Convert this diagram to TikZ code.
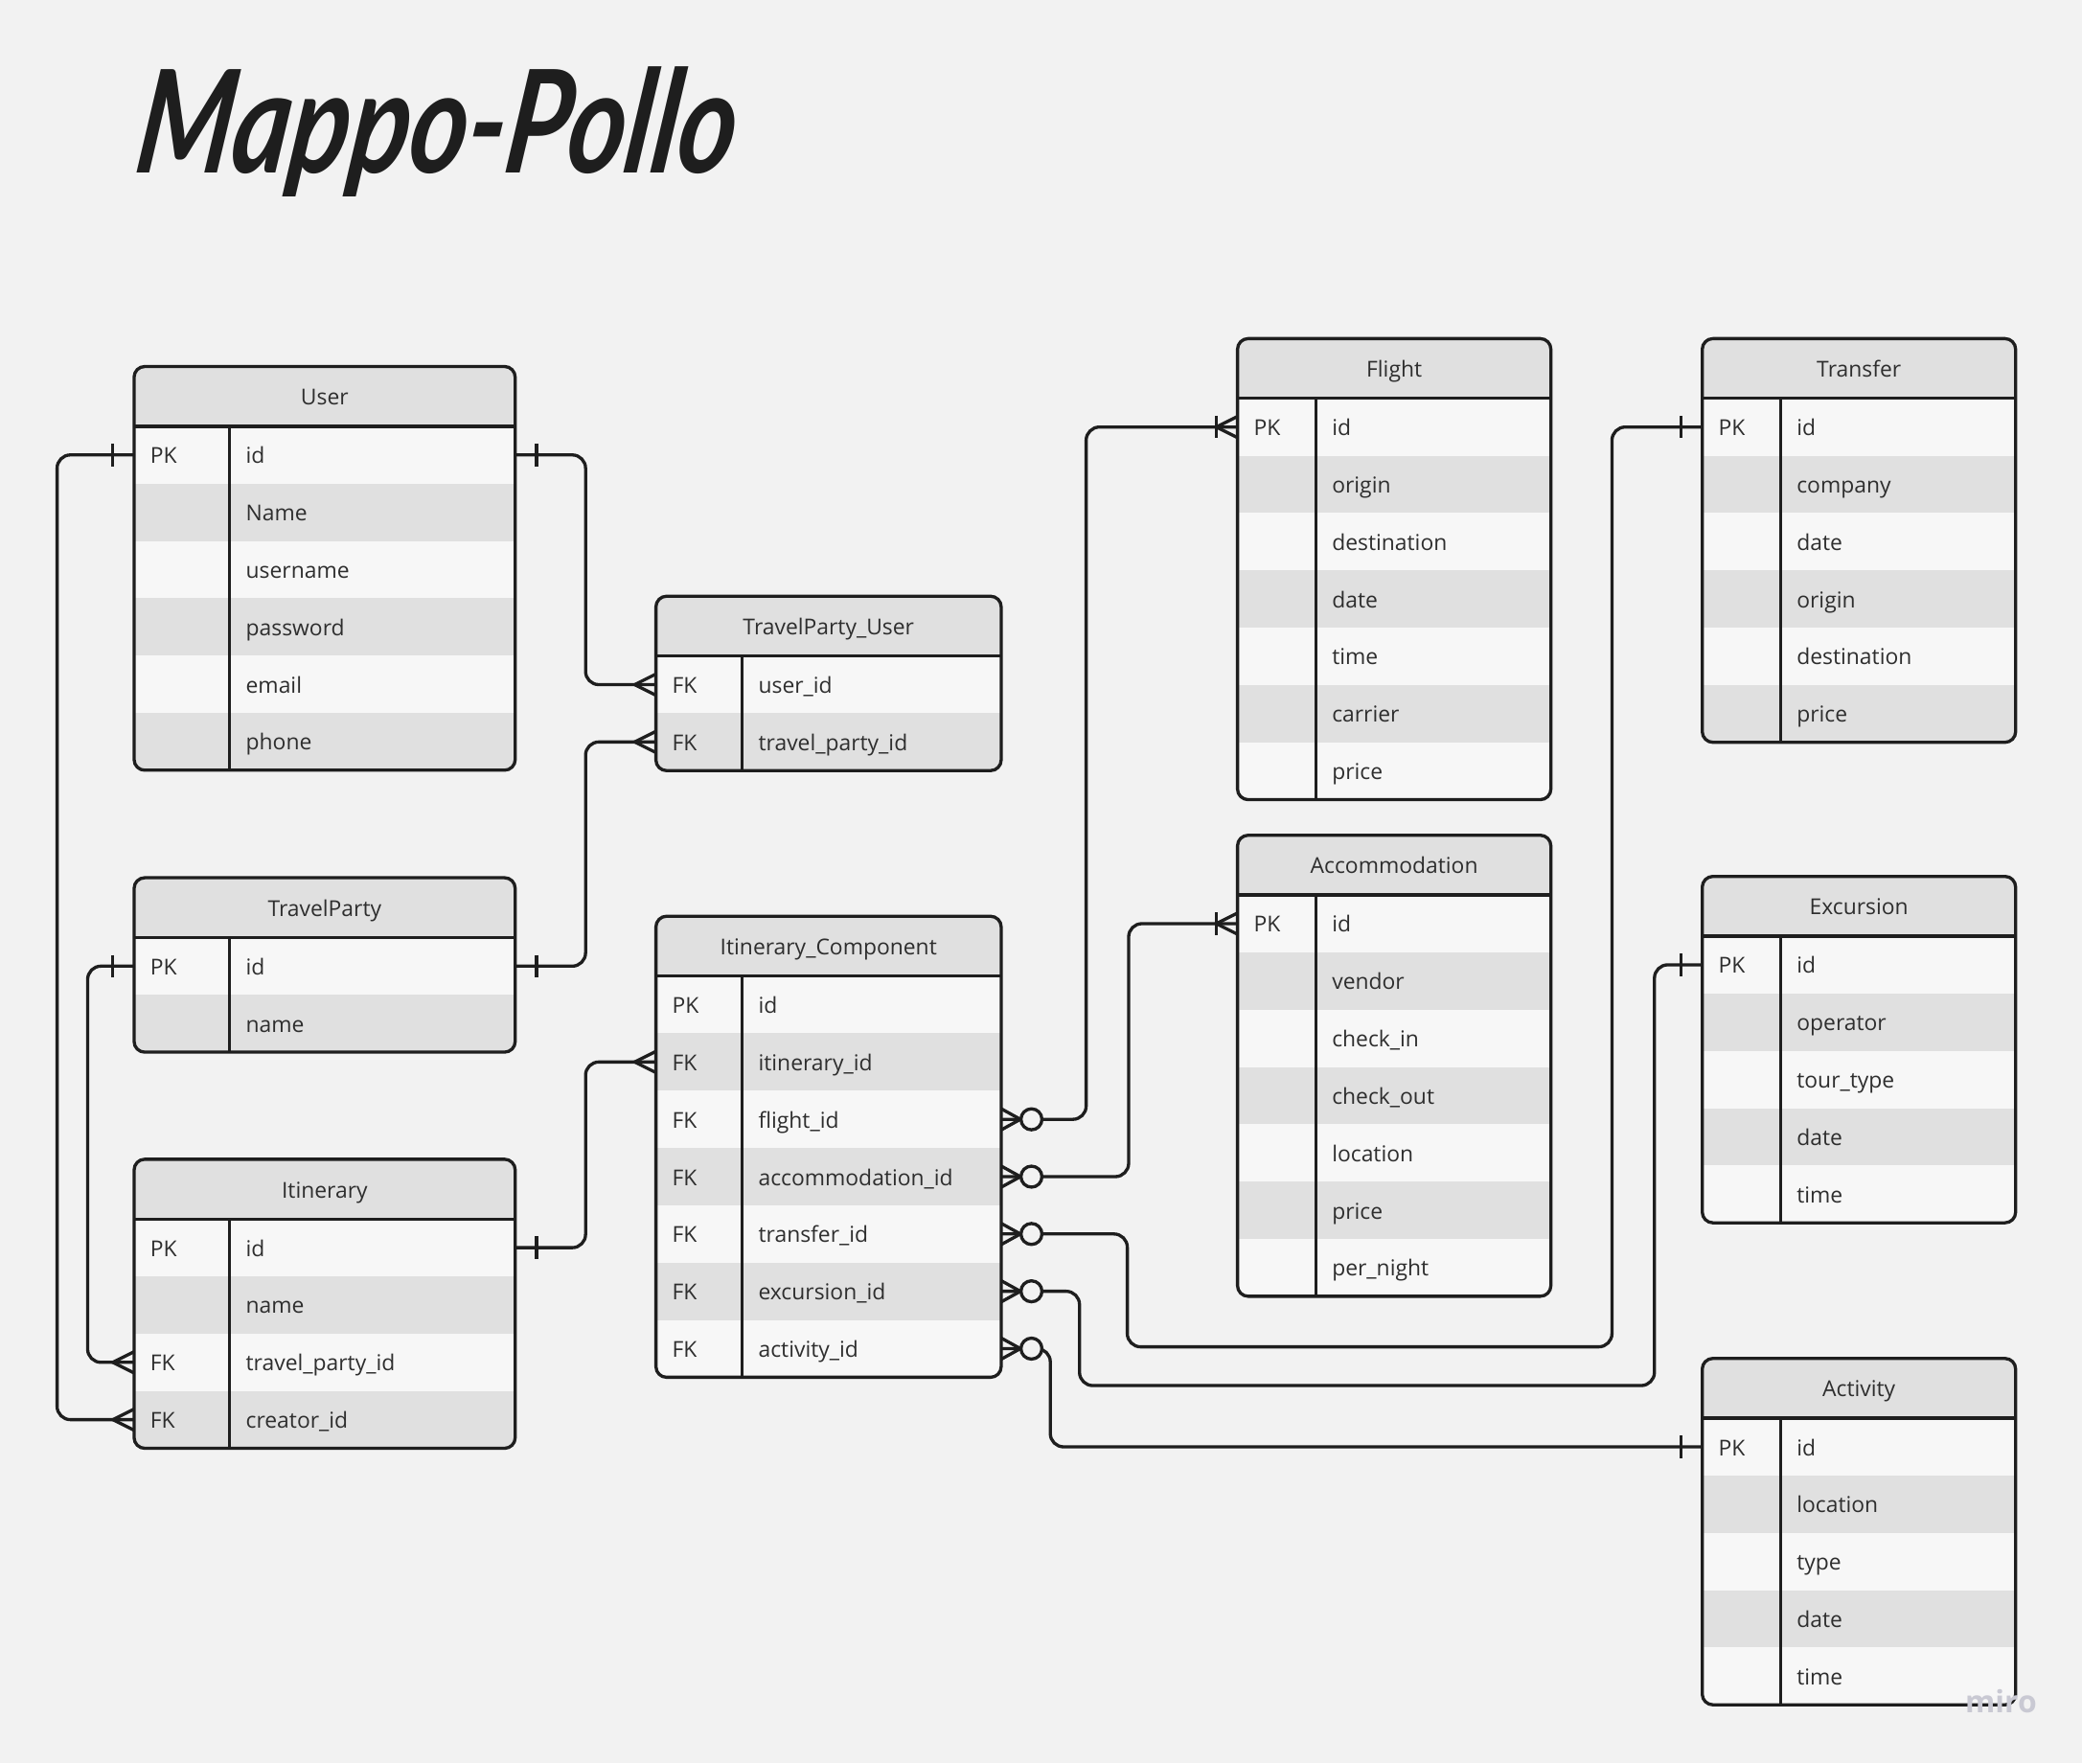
\documentclass[tikz,border=0pt]{standalone}
\usepackage{fontspec}
\setmainfont{Open Sans}
\newfontfamily\titlefont{Lato}
\usetikzlibrary{calc}
\definecolor{bgcol}{HTML}{F2F2F2}
\definecolor{rowlight}{HTML}{F7F7F7}
\definecolor{rowgray}{HTML}{E0E0E0}
\definecolor{headfill}{HTML}{E0E0E0}
\definecolor{linecol}{HTML}{1E1E1E}
\definecolor{txtcol}{HTML}{2E2E2E}
\definecolor{mirocol}{HTML}{C9C9D3}
\tikzset{
  tableline/.style={draw=linecol, line width=2.4pt},
  conn/.style={draw=linecol, line width=2.4pt, rounded corners=10pt},
  mk/.style={draw=linecol, line width=2.4pt},
  rowcell/.style={rectangle, draw=none, inner sep=0pt, outer sep=0pt, minimum height=43.17pt},
  keytext/.style={anchor=base west, inner sep=0pt, text=txtcol, font=\fontsize{16.5}{19}\selectfont},
  fieldtext/.style={anchor=base west, inner sep=0pt, text=txtcol, font=\fontsize{16.5}{19}\selectfont},
  headtext/.style={anchor=base, inner sep=0pt, text=txtcol, font=\fontsize{16.5}{19}\selectfont},
  onemark/.pic={\draw[mk] (16,-8.5) -- (16,8.5);},
  manymark/.pic={\draw[mk] (0,-8) -- (16,0) -- (0,8);},
  onemanymark/.pic={\draw[mk] (0,-8) -- (16,0) -- (0,8); \draw[mk] (16,-8.5) -- (16,8.5);},
  zeromanymark/.pic={\draw[mk] (0,-8) -- (14.5,0) -- (0,8); \draw[mk, fill=bgcol] (22.8,0) circle (7.9pt);}
}
% #1 name #2 title #3 x #4 y #5 w #6 divider offset #7 rows count #8 rows
\newcommand{\ertable}[8]{%
  \pgfmathsetmacro{\tb}{#4+45+#7*43.17}
  \begin{scope}
    \clip[rounded corners=8pt] (#3,#4) rectangle (#3+#5,\tb);
    \fill[headfill] (#3,#4) rectangle (#3+#5,#4+45);
    \foreach \k/\f [count=\i] in {#8}{
      \ifodd\i \def\rc{rowlight}\else\def\rc{rowgray}\fi
      \node[rowcell, fill=\rc, minimum width=#5pt, anchor=north west] (#1-\i) at (#3,{#4+45+(\i-1)*43.17}) {};
      \node[keytext] (#1-\i-k) at ($(#1-\i.west)+(12,6.5)$) {\k};
      \node[fieldtext] (#1-\i-f) at ($(#1-\i.west)+(#6+12,6.5)$) {\f};
    }
  \end{scope}
  \node[headtext] (#1) at (#3+#5/2, #4+29) {#2};
  \draw[tableline, rounded corners=8pt] (#3,#4) rectangle (#3+#5,\tb);
  \draw[tableline] (#3,#4+45) -- (#3+#5,#4+45);
  \draw[tableline] (#3+#6,#4+45) -- (#3+#6,\tb);
}
\begin{document}
\begin{tikzpicture}[x=1pt,y=-1pt]
\path[use as bounding box, fill=bgcol] (0,0) rectangle (1568,1328);

\node[anchor=base west, inner sep=0pt, text=linecol, xslant=0.14] (title) at (100,130)
  {\resizebox{451pt}{80pt}{\titlefont\bfseries\itshape Mappo-Pollo}};

\ertable{user}{User}{101}{276}{287}{72}{6}{PK/id,/Name,/username,/password,/email,/phone}
\ertable{tpu}{TravelParty\_User}{494}{449}{260}{65}{2}{FK/user\_id,FK/travel\_party\_id}
\ertable{tp}{TravelParty}{101}{661}{287}{72}{2}{PK/id,/name}
\ertable{itin}{Itinerary}{101}{873}{287}{72}{4}{PK/id,/name,FK/travel\_party\_id,FK/creator\_id}
\ertable{ic}{Itinerary\_Component}{494}{690}{260}{65}{7}{PK/id,FK/itinerary\_id,FK/flight\_id,FK/accommodation\_id,FK/transfer\_id,FK/excursion\_id,FK/activity\_id}
\ertable{flight}{Flight}{932}{255}{236}{59}{7}{PK/id,/origin,/destination,/date,/time,/carrier,/price}
\ertable{acc}{Accommodation}{932}{629}{236}{59}{7}{PK/id,/vendor,/check\_in,/check\_out,/location,/price,/per\_night}
\ertable{transfer}{Transfer}{1282}{255}{236}{59}{6}{PK/id,/company,/date,/origin,/destination,/price}
\ertable{exc}{Excursion}{1282}{660}{236}{59}{5}{PK/id,/operator,/tour\_type,/date,/time}
\ertable{act}{Activity}{1282}{1023}{236}{59}{5}{PK/id,/location,/type,/date,/time}

% connectors
\draw[conn] (user-1.west) -- ++(-58,0) |- (itin-4.west);
\draw[conn] (user-1.east) -- ++(53,0) |- (tpu-1.west);
\draw[conn] (tp-1.east) -- ++(53,0) |- (tpu-2.west);
\draw[conn] (tp-1.west) -- ++(-35,0) |- (itin-3.west);
\draw[conn] (itin-1.east) -- ++(53,0) |- (ic-2.west);
\draw[conn] (ic-3.east) -- ++(64,0) |- (flight-1.west);
\draw[conn] (ic-4.east) -- ++(96,0) |- (acc-1.west);
\draw[conn] (ic-5.east) -- ++(95,0) -- ++(0,85) -- ++(365,0) |- (transfer-1.west);
\draw[conn] (ic-6.east) -- ++(59,0) -- ++(0,71) -- ++(433,0) |- (exc-1.west);
\draw[conn] (ic-7.east) -- ++(37,0) |- (act-1.west);

% end marks
\path (user-1.west) pic[xscale=-1] {onemark};
\path (user-1.east) pic {onemark};
\path (tp-1.east) pic {onemark};
\path (tp-1.west) pic[xscale=-1] {onemark};
\path (itin-1.east) pic {onemark};
\path (itin-4.west) pic[xscale=-1] {manymark};
\path (itin-3.west) pic[xscale=-1] {manymark};
\path (tpu-1.west) pic[xscale=-1] {manymark};
\path (tpu-2.west) pic[xscale=-1] {manymark};
\path (ic-2.west) pic[xscale=-1] {manymark};
\path (ic-3.east) pic {zeromanymark};
\path (ic-4.east) pic {zeromanymark};
\path (ic-5.east) pic {zeromanymark};
\path (ic-6.east) pic {zeromanymark};
\path (ic-7.east) pic {zeromanymark};
\path (flight-1.west) pic[xscale=-1] {onemanymark};
\path (acc-1.west) pic[xscale=-1] {onemanymark};
\path (transfer-1.west) pic[xscale=-1] {onemark};
\path (exc-1.west) pic[xscale=-1] {onemark};
\path (act-1.west) pic[xscale=-1] {onemark};

\node[inner sep=0pt, text=mirocol, font=\fontsize{23}{25}\selectfont\bfseries] (miro) at (1507,1281) {miro};
\end{tikzpicture}
\end{document}
